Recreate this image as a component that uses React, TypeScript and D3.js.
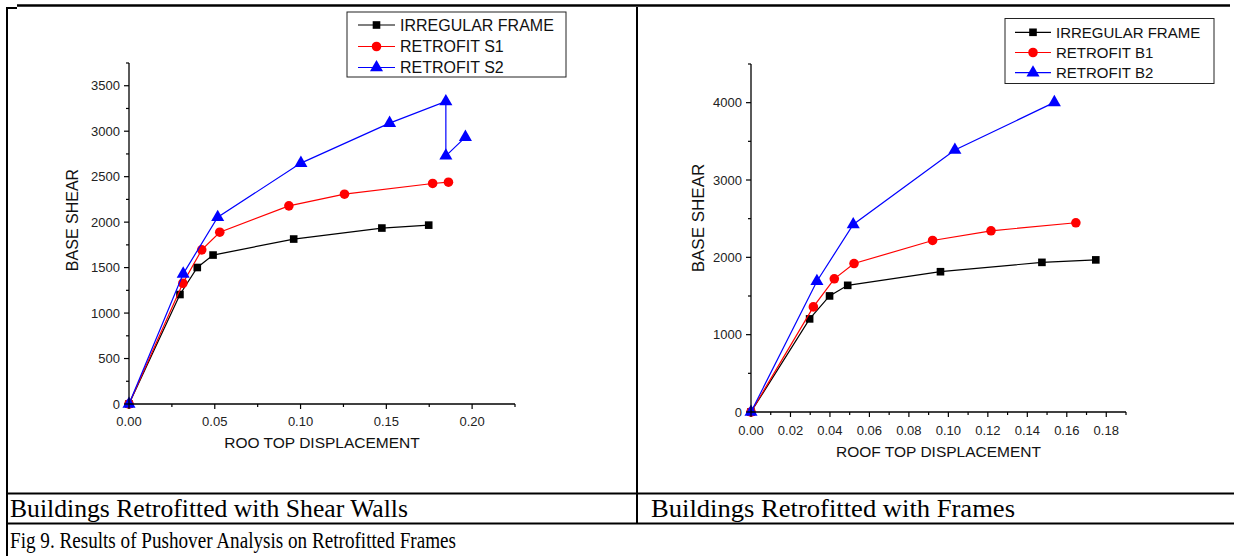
import React from "react";
import * as d3 from "d3";

// ---------- Data ----------
const IRR_X = [0, 0.0297, 0.0398, 0.049, 0.096, 0.1474, 0.1747];
const IRR_Y = [0, 1204, 1501, 1638, 1814, 1935, 1967];

const S1_X = [0, 0.0314, 0.0424, 0.0529, 0.0932, 0.1256, 0.177, 0.1862];
const S1_Y = [0, 1328, 1695, 1889, 2179, 2307, 2425, 2439];

const S2_X = [0, 0.0316, 0.0517, 0.1002, 0.1519, 0.1847, 0.1847, 0.1961];
const S2_Y = [0, 1431, 2054, 2649, 3089, 3327, 2729, 2935];

const B1_X = [0, 0.0316, 0.0422, 0.0522, 0.092, 0.1216, 0.1646];
const B1_Y = [0, 1359, 1722, 1920, 2218, 2343, 2447];

const B2_X = [0, 0.0334, 0.0518, 0.1033, 0.1537];
const B2_Y = [0, 1691, 2425, 3387, 4004];

const LEFT_LEGEND = ["IRREGULAR FRAME", "RETROFIT S1", "RETROFIT S2"];
const RIGHT_LEGEND = ["IRREGULAR FRAME", "RETROFIT B1", "RETROFIT B2"];

const LEFT_X_TITLE = "ROO TOP DISPLACEMENT";
const RIGHT_X_TITLE = "ROOF TOP DISPLACEMENT";
const Y_TITLE = "BASE SHEAR";

const CAPTION_LEFT = "Buildings Retrofitted with Shear Walls";
const CAPTION_RIGHT = "Buildings Retrofitted with Frames";
const FIG_CAPTION = "Fig 9. Results of Pushover Analysis on Retrofitted Frames";

const COLORS = ["#000000", "#ff0000", "#0000ff"];
const SHAPES = [d3.symbolSquare, d3.symbolCircle, d3.symbolTriangle];
const SIZES = [58, 72, 74];

const SANS = "'Liberation Sans', Arial, sans-serif";
const SERIF = "'Liberation Serif', 'Times New Roman', serif";

type Series = { xs: number[]; ys: number[] };

function Marker({ i, x, y }: { i: number; x: number; y: number }) {
  const p = d3.symbol().type(SHAPES[i]).size(SIZES[i])() as string;
  return <path d={p} transform={`translate(${x},${y})`} fill={COLORS[i]} />;
}

function Chart(props: {
  series: Series[];
  xDomain: [number, number];
  yDomain: [number, number];
  xRange: [number, number];
  yRange: [number, number];
  xMajor: number;
  yMajor: number;
  xTitle: string;
  xTitleY: number;
  yTitleX: number;
  yTitleY: number;
  yTitleSize: number;
  xLabelY: number;
  legend: string[];
  legendBox: [number, number, number, number];
  legendRows: number[];
  legendLine: [number, number];
  legendTextX: number;
  legendFont: number;
}) {
  const x = d3.scaleLinear().domain(props.xDomain).range(props.xRange);
  const y = d3.scaleLinear().domain(props.yDomain).range(props.yRange);
  const x0 = props.xRange[0];
  const y0 = props.yRange[0];
  const nX = Math.round((props.xDomain[1] - props.xDomain[0]) / (props.xMajor / 2));
  const nY = Math.round((props.yDomain[1] - props.yDomain[0]) / (props.yMajor / 2));
  const xTicks = d3.range(nX + 1).map((k) => ({ v: (k * props.xMajor) / 2, major: k % 2 === 0 }));
  const yTicks = d3.range(nY + 1).map((k) => ({ v: (k * props.yMajor) / 2, major: k % 2 === 0 }));
  const line = d3
    .line<[number, number]>()
    .x((d) => x(d[0]))
    .y((d) => y(d[1]));
  const [lx, ly, lw, lh] = props.legendBox;
  return (
    <g>
      {/* series */}
      {props.series.map((s, i) => {
        const pts = s.xs.map((v, k) => [v, s.ys[k]] as [number, number]);
        return (
          <g key={i}>
            <path d={line(pts) as string} fill="none" stroke={COLORS[i]} strokeWidth={1.2} />
            {pts.map((p, k) => (
              <Marker key={k} i={i} x={x(p[0])} y={y(p[1])} />
            ))}
          </g>
        );
      })}
      {/* axes */}
      <line x1={x0} x2={x0} y1={y0} y2={props.yRange[1]} stroke="#000" strokeWidth={1.3} />
      <line x1={x0} x2={props.xRange[1]} y1={y0} y2={y0} stroke="#000" strokeWidth={1.3} />
      {xTicks.map((t, k) => (
        <g key={"xt" + k}>
          <line x1={x(t.v)} x2={x(t.v)} y1={y0} y2={y0 + (t.major ? 5 : 3)} stroke="#000" strokeWidth={1.2} />
          {t.major && (
            <text x={x(t.v)} y={props.xLabelY} textAnchor="middle" fontFamily={SANS} fontSize={13} fill="#222">
              {t.v.toFixed(2)}
            </text>
          )}
        </g>
      ))}
      {yTicks.map((t, k) => (
        <g key={"yt" + k}>
          <line x1={x0} x2={x0 - (t.major ? 5 : 3)} y1={y(t.v)} y2={y(t.v)} stroke="#000" strokeWidth={1.2} />
          {t.major && (
            <text x={x0 - 9} y={y(t.v) + 4.5} textAnchor="end" fontFamily={SANS} fontSize={13} fill="#222">
              {d3.format("d")(t.v)}
            </text>
          )}
        </g>
      ))}
      <text
        x={(props.xRange[0] + props.xRange[1]) / 2}
        y={props.xTitleY}
        textAnchor="middle"
        fontFamily={SANS}
        fontSize={15.5}
        fill="#111"
      >
        {props.xTitle}
      </text>
      <text
        transform={`translate(${props.yTitleX},${props.yTitleY}) rotate(-90)`}
        textAnchor="middle"
        fontFamily={SANS}
        fontSize={props.yTitleSize}
        fill="#111"
      >
        {Y_TITLE}
      </text>
      {/* legend */}
      <rect x={lx} y={ly} width={lw} height={lh} fill="#fff" stroke="#222" strokeWidth={1} />
      {props.legend.map((name, i) => (
        <g key={"lg" + i}>
          <line
            x1={props.legendLine[0]}
            x2={props.legendLine[1]}
            y1={props.legendRows[i]}
            y2={props.legendRows[i]}
            stroke={COLORS[i]}
            strokeWidth={1.2}
          />
          <Marker i={i} x={(props.legendLine[0] + props.legendLine[1]) / 2} y={props.legendRows[i]} />
          <text
            x={props.legendTextX}
            y={props.legendRows[i] + props.legendFont * 0.36}
            fontFamily={SANS}
            fontSize={props.legendFont}
            fill="#111"
          >
            {name}
          </text>
        </g>
      ))}
    </g>
  );
}

export default function App() {
  const leftSeries: Series[] = [
    { xs: IRR_X, ys: IRR_Y },
    { xs: S1_X, ys: S1_Y },
    { xs: S2_X, ys: S2_Y },
  ];
  const rightSeries: Series[] = [
    { xs: IRR_X, ys: IRR_Y },
    { xs: B1_X, ys: B1_Y },
    { xs: B2_X, ys: B2_Y },
  ];
  return (
    <svg
      width={1234}
      height={556}
      style={{ position: "absolute", left: 0, top: 0, background: "#fff" }}
    >
      <rect x={0} y={0} width={1234} height={556} fill="#fff" />
      {/* table lines */}
      <line x1={17} x2={1230} y1={5.5} y2={5.5} stroke="#000" strokeWidth={2.5} />
      <line x1={7} x2={7} y1={7} y2={556} stroke="#000" strokeWidth={2} />
      <line x1={6} x2={17} y1={8} y2={8} stroke="#000" strokeWidth={2} />
      <line x1={637} x2={637} y1={7} y2={523.5} stroke="#000" strokeWidth={2} />
      <line x1={6} x2={1234} y1={493.5} y2={493.5} stroke="#000" strokeWidth={2} />
      <line x1={6} x2={1234} y1={523.5} y2={523.5} stroke="#000" strokeWidth={2} />

      <Chart
        series={leftSeries}
        xDomain={[0, 0.225]}
        yDomain={[0, 3750]}
        xRange={[129, 515]}
        yRange={[404, 63]}
        xMajor={0.05}
        yMajor={500}
        xTitle={LEFT_X_TITLE}
        xTitleY={448}
        yTitleX={78}
        yTitleY={220}
        yTitleSize={16}
        xLabelY={426}
        legend={LEFT_LEGEND}
        legendBox={[347, 12, 219, 65]}
        legendRows={[25, 46.5, 67.5]}
        legendLine={[358, 395]}
        legendTextX={400}
        legendFont={16}
      />
      <Chart
        series={rightSeries}
        xDomain={[0, 0.19]}
        yDomain={[0, 4500]}
        xRange={[751, 1126]}
        yRange={[412, 64]}
        xMajor={0.02}
        yMajor={1000}
        xTitle={RIGHT_X_TITLE}
        xTitleY={457}
        yTitleX={704}
        yTitleY={218}
        yTitleSize={17}
        xLabelY={435}
        legend={RIGHT_LEGEND}
        legendBox={[1005, 18.5, 209, 65]}
        legendRows={[32.3, 52.5, 72.7]}
        legendLine={[1015, 1051]}
        legendTextX={1056}
        legendFont={15}
      />

      <text x={10} y={517} fontFamily={SERIF} fontSize={25} textLength={398} lengthAdjust="spacingAndGlyphs">
        {CAPTION_LEFT}
      </text>
      <text x={651} y={517} fontFamily={SERIF} fontSize={25} textLength={364} lengthAdjust="spacingAndGlyphs">
        {CAPTION_RIGHT}
      </text>
      <text x={10} y={548} fontFamily={SERIF} fontSize={24} textLength={446} lengthAdjust="spacingAndGlyphs">
        {FIG_CAPTION}
      </text>
    </svg>
  );
}
